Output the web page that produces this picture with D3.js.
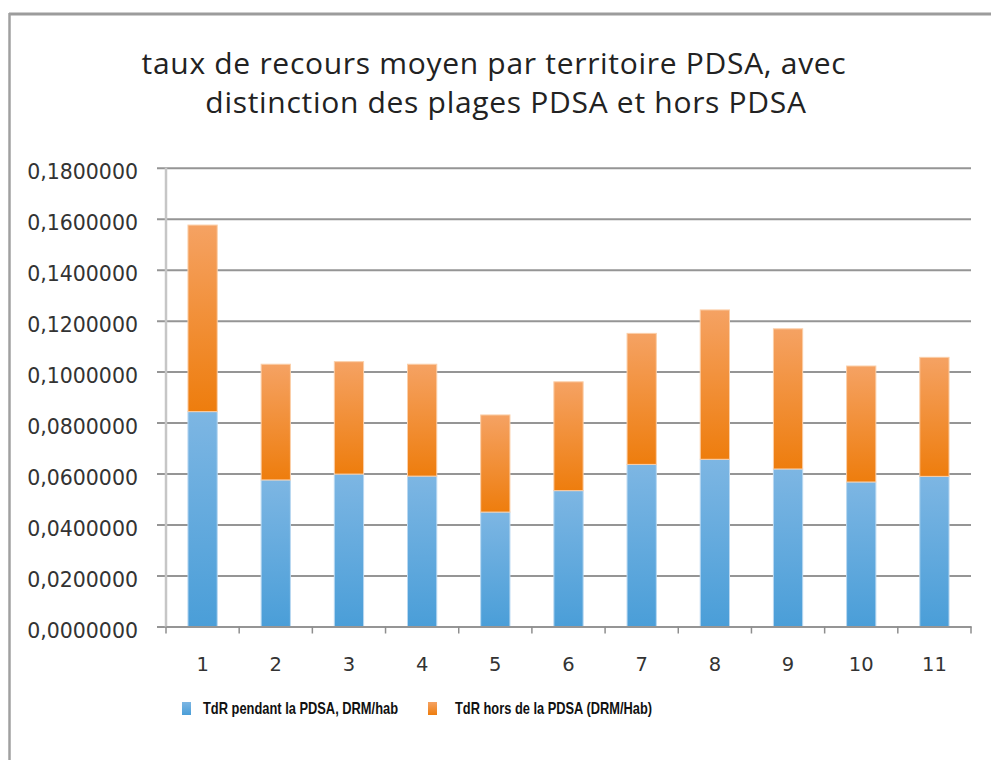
<!DOCTYPE html>
<meta charset="utf-8">
<head>
<style>
  body { margin: 0; background: #fff; }
  svg { display: block; }
</style>
<script src="https://cdn.jsdelivr.net/npm/d3@7"></script>
</head>
<body>
<svg id="chart"></svg>
<script>

// values
let territoires = ["1", "2", "3", "4", "5", "6", "7", "8", "9", "10", "11"]
let pendantPDSA = [0.0843, 0.0575, 0.0598, 0.0590, 0.0449, 0.0533, 0.0636, 0.0656, 0.0618, 0.0567, 0.0589]
let horsPDSA = [0.0732, 0.0454, 0.0441, 0.0439, 0.0381, 0.0427, 0.0514, 0.0586, 0.0550, 0.0455, 0.0467]
let yTicks = [0, 0.02, 0.04, 0.06, 0.08, 0.10, 0.12, 0.14, 0.16, 0.18]
let seriesNames = ["TdR pendant la PDSA, DRM/hab", "TdR hors de la PDSA (DRM/Hab)"]
let titleLines = ["taux de recours moyen par territoire PDSA, avec", "distinction des plages PDSA et hors PDSA"]

let width = 991, height = 760
let plot = { left: 166, right: 971, top: 167.7, bottom: 626.5 }

let svg = d3.select("#chart").attr("width", width).attr("height", height)

let defs = svg.append("defs")
function addGradient(id, top, bottom) {
  let g = defs.append("linearGradient").attr("id", id)
    .attr("x1", 0).attr("y1", 0).attr("x2", 0).attr("y2", 1)
  g.append("stop").attr("offset", "0%").attr("stop-color", top)
  g.append("stop").attr("offset", "100%").attr("stop-color", bottom)
}
addGradient("gradBlue", "#7db6e3", "#4a9ed8")
addGradient("gradOrange", "#f5a263", "#ee7d0d")

// frame around the chart area
svg.append("line").attr("x1", 9).attr("x2", width).attr("y1", 14).attr("y2", 14)
  .attr("stroke", "#9c9c9c").attr("stroke-width", 3)
svg.append("line").attr("x1", 9.5).attr("x2", 9.5).attr("y1", 13).attr("y2", height)
  .attr("stroke", "#a0a0a0").attr("stroke-width", 2.5)

// title
let titleX = [494, 506], titleY = [74, 113]
titleLines.forEach((line, i) => {
  svg.append("text").attr("x", titleX[i]).attr("y", titleY[i])
    .attr("text-anchor", "middle")
    .style("font-family", "'Open Sans', sans-serif").style("font-size", "30px")
    .style("letter-spacing", "0.7px").style("fill", "#222")
    .text(line)
})

let xScale = d3.scaleBand().domain(territoires).range([plot.left, plot.right]).padding(0)
let yScale = d3.scaleLinear().domain([0, 0.18]).range([plot.bottom, plot.top])

let locale = d3.formatLocale({ decimal: ",", thousands: " ", grouping: [3], currency: ["", "€"] })
let fmt = locale.format(".7f")

// horizontal grid lines + y labels
let yAxis = d3.axisLeft(yScale).tickValues(yTicks).tickFormat(fmt)
  .tickSize(-(plot.right - plot.left)).tickPadding(28)
let gy = svg.append("g").attr("transform", `translate(${plot.left},0)`).call(yAxis)
gy.select(".domain").remove()
gy.selectAll(".tick line").attr("x1", -9).attr("stroke", "#959595").attr("stroke-width", 2)
gy.selectAll(".tick text")
  .attr("dy", "11px")
  .style("font-family", "'DejaVu Sans', sans-serif").style("font-size", "20.5px").style("fill", "#333")

// vertical axis line
svg.append("line").attr("x1", plot.left).attr("x2", plot.left)
  .attr("y1", plot.top).attr("y2", plot.bottom + 1)
  .attr("stroke", "#c6c6c6").attr("stroke-width", 2.5)

// stacked bars
let stacked = territoires.map((t, i) => ({ t: t, a: pendantPDSA[i], b: horsPDSA[i] }))
let stack = d3.stack().keys(["a", "b"])(stacked)
let fills = ["url(#gradBlue)", "url(#gradOrange)"]
let edges = ["#b9d8f1", "#fbcfa9"]
let barW = xScale.bandwidth() * 0.4

stack.forEach((layer, k) => {
  svg.append("g").selectAll("rect").data(layer).enter().append("rect")
    .attr("x", d => xScale(d.data.t) + (xScale.bandwidth() - barW) / 2)
    .attr("width", barW)
    .attr("y", d => yScale(d[1]))
    .attr("height", d => yScale(d[0]) - yScale(d[1]))
    .attr("fill", fills[k])
    .attr("stroke", edges[k]).attr("stroke-width", 1)
})

// x axis
let xAxis = d3.axisBottom(xScale).tickSize(0).tickPadding(0)
let gx = svg.append("g").attr("transform", `translate(0,${plot.bottom})`).call(xAxis)
gx.select(".domain").attr("stroke", "#959595").attr("stroke-width", 2)
gx.selectAll(".tick text")
  .attr("y", 0).attr("dy", "44px")
  .style("font-family", "'DejaVu Sans', sans-serif").style("font-size", "19.5px").style("fill", "#333")

// category separators (ticks between bars)
let bounds = territoires.map(t => xScale(t)).concat([plot.right])
svg.append("g").selectAll("line").data(bounds).enter().append("line")
  .attr("x1", d => d).attr("x2", d => d)
  .attr("y1", plot.bottom).attr("y2", plot.bottom + 7)
  .attr("stroke", "#8e8e8e").attr("stroke-width", 1.5)

// legend
let legendX = [182, 428], legendTextX = [203, 455], legendTextW = [195, 197]
let legendColors = ["url(#gradBlue)", "url(#gradOrange)"]
seriesNames.forEach((name, i) => {
  svg.append("rect").attr("x", legendX[i]).attr("y", 702).attr("width", 9).attr("height", 13)
    .attr("fill", legendColors[i])
  svg.append("text").attr("x", legendTextX[i]).attr("y", 714)
    .attr("textLength", legendTextW[i]).attr("lengthAdjust", "spacingAndGlyphs")
    .style("font-family", "'Liberation Sans', Arial, sans-serif").style("font-weight", "bold")
    .style("font-size", "16.5px").style("fill", "#111")
    .text(name)
})

</script>
</body>
